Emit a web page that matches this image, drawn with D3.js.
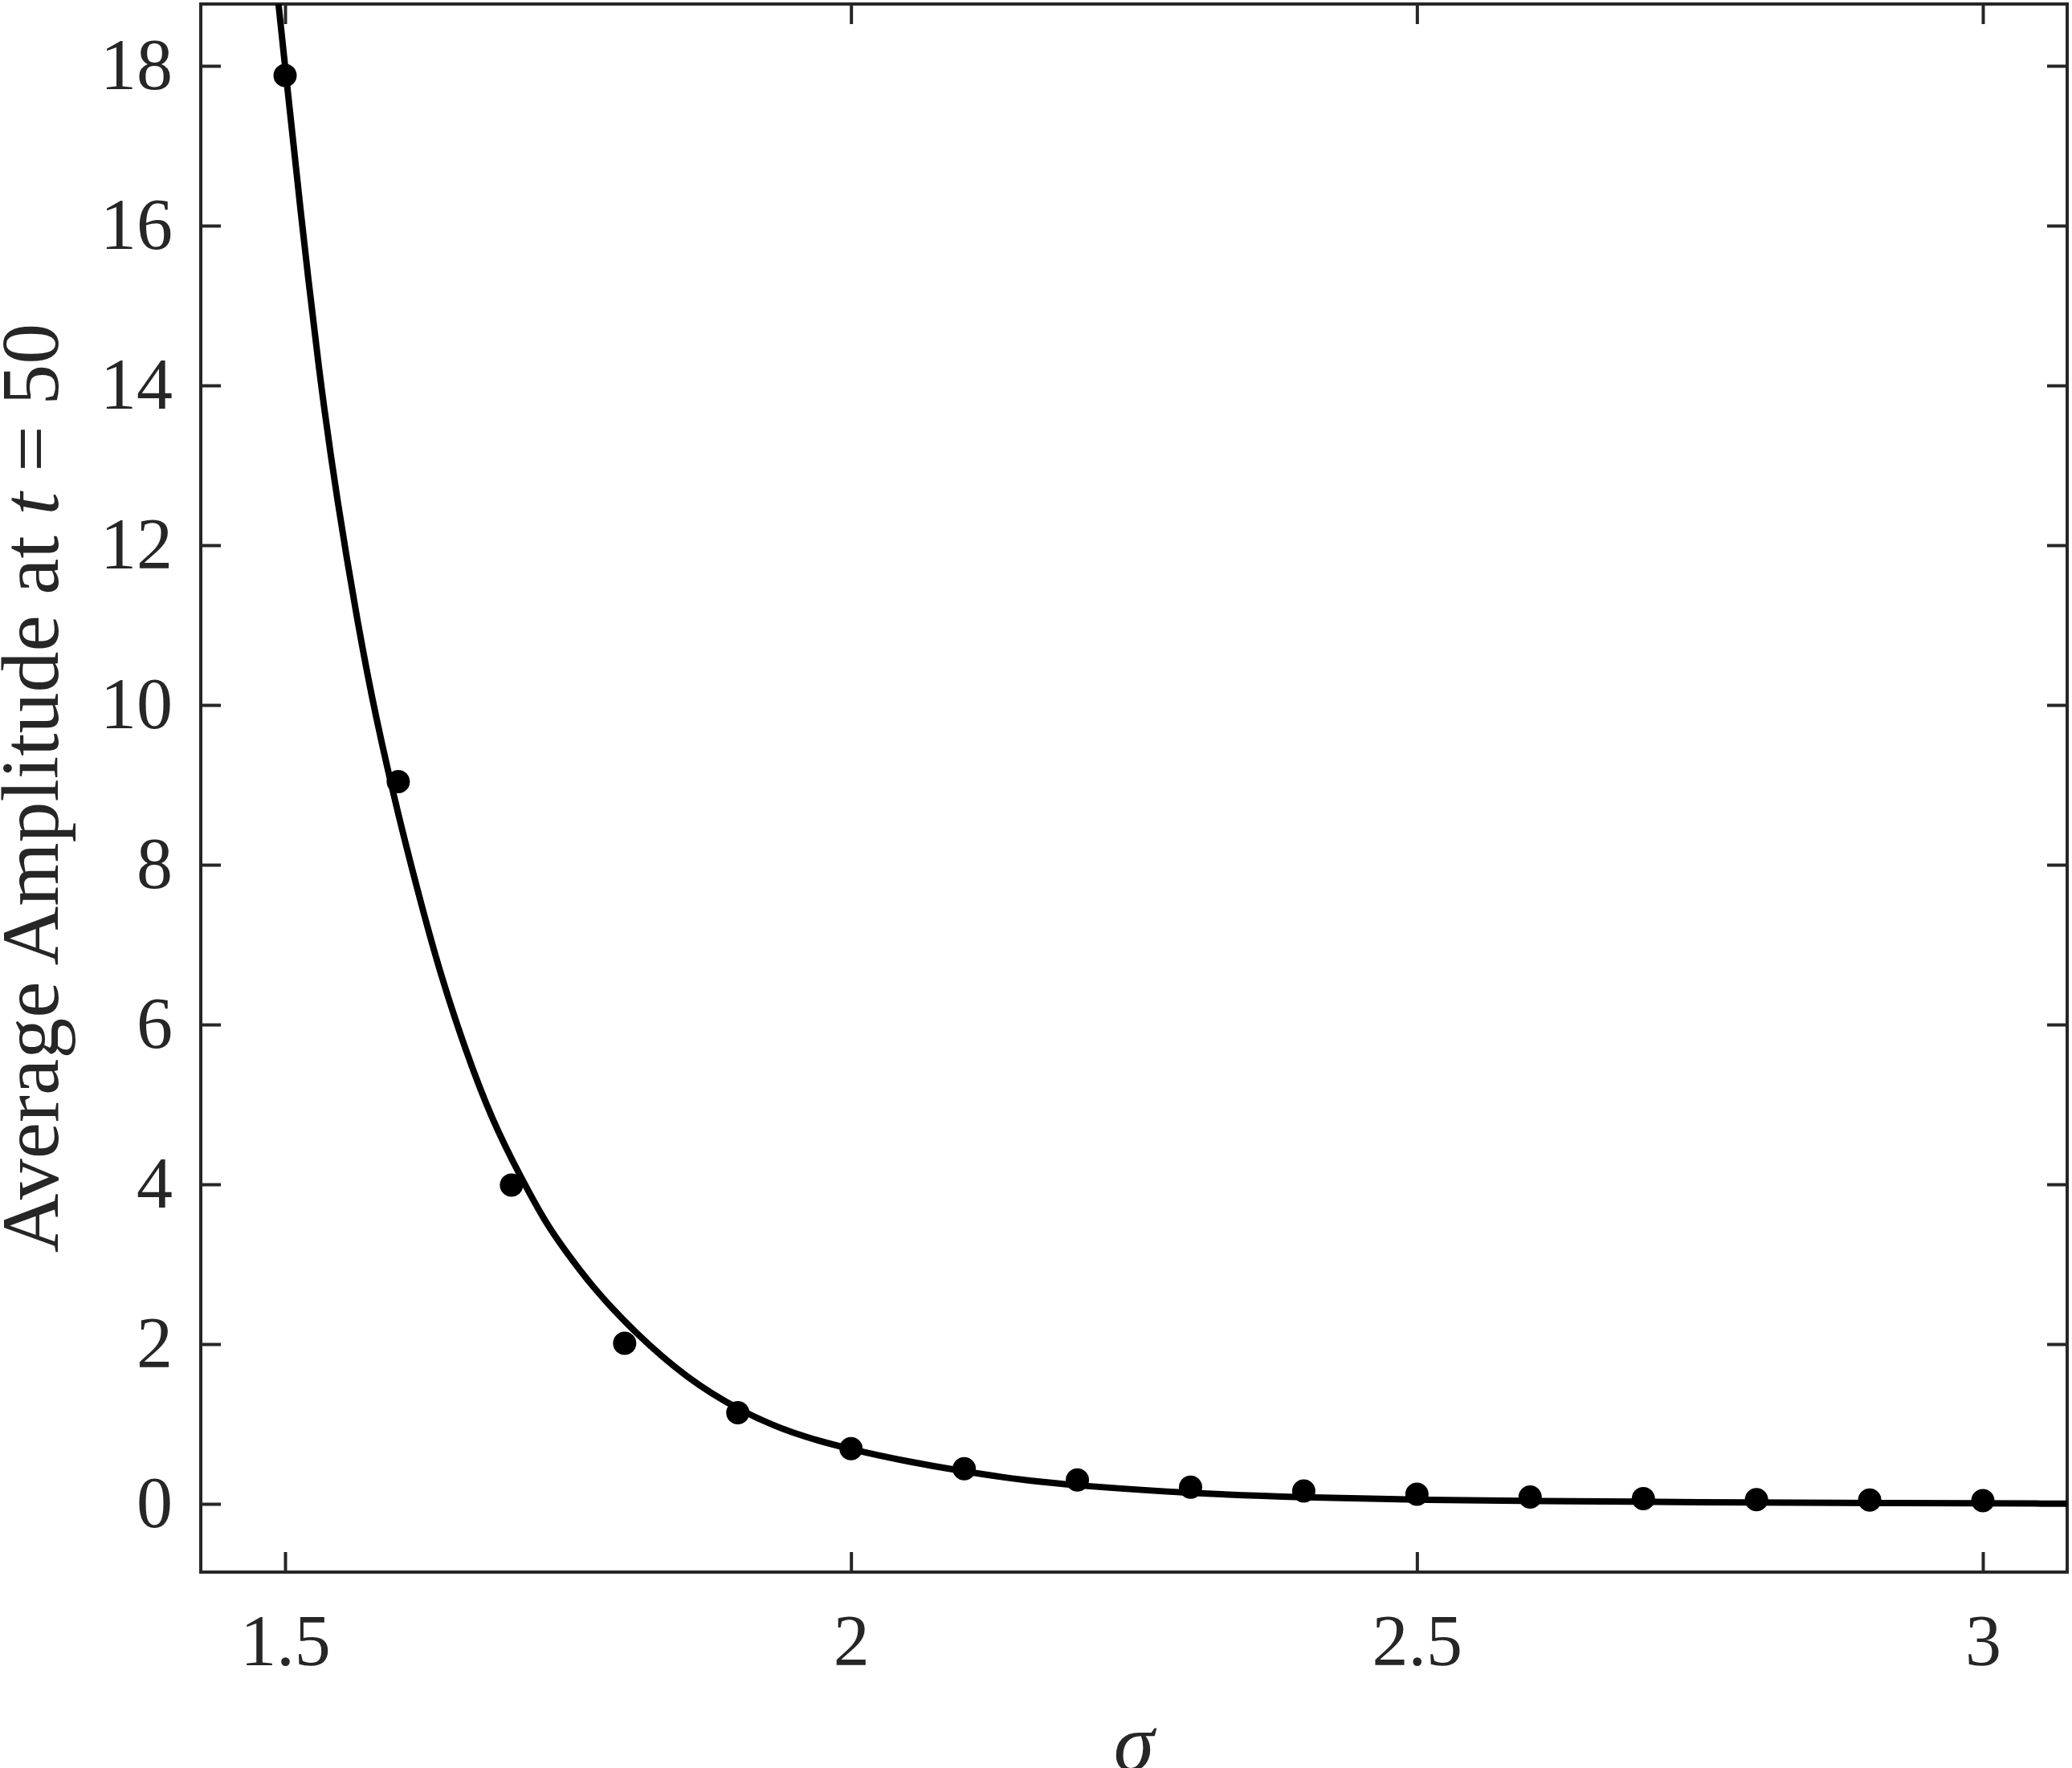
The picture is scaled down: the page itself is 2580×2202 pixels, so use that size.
<!DOCTYPE html>
<html>
<head>
<meta charset="utf-8">
<script src="https://cdn.jsdelivr.net/npm/d3@7"></script>
<style>
  body { margin: 0; background: #fff; }
  text { font-family: "Liberation Serif", "Times New Roman", serif; fill: #262626; }
</style>
</head>
<body>
<div id="chart"></div>
<script>
// measured points
var sigma = [1.5, 1.6, 1.7, 1.8, 1.9, 2.0, 2.1, 2.2, 2.3, 2.4, 2.5, 2.6, 2.7, 2.8, 2.9, 3.0];
var amplitude = [17.88, 9.04, 3.99, 2.01, 1.14, 0.69, 0.44, 0.30, 0.21, 0.16, 0.12, 0.085, 0.065, 0.053, 0.047, 0.04];

// fitted curve
var fitSigma = [1.488, 1.5, 1.513, 1.53, 1.546, 1.565, 1.58, 1.6, 1.617, 1.636, 1.66, 1.683, 1.707, 1.731, 1.745, 1.771,
                1.809, 1.855, 1.901, 1.949, 2.003, 2.05, 2.098, 2.135, 2.171, 2.2, 2.3, 2.4, 2.5, 2.6, 2.75, 2.9, 3.075];
var fitAmplitude = [19.6, 17.99, 16.26, 14.15, 12.55, 10.95, 9.85, 8.62, 7.68, 6.68, 5.65, 4.8, 4.12, 3.5, 3.22, 2.72,
                    2.14, 1.57, 1.17, 0.87, 0.67, 0.53, 0.41, 0.33, 0.27, 0.23, 0.13, 0.08, 0.05, 0.035, 0.02, 0.01, 0.003];

var xTicks = [1.5, 2, 2.5, 3];
var yTicks = [0, 2, 4, 6, 8, 10, 12, 14, 16, 18];

var width = 2580, height = 2202;
var plotLeft = 250, plotRight = 2574, plotTop = 5, plotBottom = 1958;

var svg = d3.select("#chart").append("svg")
    .attr("width", width)
    .attr("height", height);

svg.append("rect").attr("width", width).attr("height", height).attr("fill", "#fff");

var x = d3.scaleLinear().domain([1.4255, 3.0745]).range([plotLeft, plotRight]);
var y = d3.scaleLinear().domain([-0.854, 18.774]).range([plotBottom, plotTop]);

// axes, ticks pointing inward
var axisStyle = function(g) {
    g.select(".domain").remove();
    g.selectAll(".tick line").attr("stroke", "#262626").attr("stroke-width", 4);
    g.selectAll(".tick text").attr("font-size", "90px").attr("fill", "#262626")
        .style("font-family", "'Liberation Serif', 'Times New Roman', serif");
};

svg.append("g")
    .attr("transform", "translate(0," + plotBottom + ")")
    .call(d3.axisBottom(x).tickValues(xTicks).tickSize(-25).tickPadding(52).tickFormat(d3.format("")))
    .call(axisStyle);

svg.append("g")
    .attr("transform", "translate(0," + plotTop + ")")
    .call(d3.axisTop(x).tickValues(xTicks).tickSize(-25).tickFormat(""))
    .call(axisStyle);

svg.append("g")
    .attr("transform", "translate(" + plotLeft + ",0)")
    .call(d3.axisLeft(y).tickValues(yTicks).tickSize(-25).tickPadding(35).tickFormat(d3.format("")))
    .call(axisStyle);

svg.append("g")
    .attr("transform", "translate(" + plotRight + ",0)")
    .call(d3.axisRight(y).tickValues(yTicks).tickSize(-25).tickFormat(""))
    .call(axisStyle);

// box
svg.append("rect")
    .attr("x", plotLeft).attr("y", plotTop)
    .attr("width", plotRight - plotLeft).attr("height", plotBottom - plotTop)
    .attr("fill", "none").attr("stroke", "#262626").attr("stroke-width", 4);

svg.append("clipPath").attr("id", "plot-clip")
    .append("rect").attr("x", plotLeft).attr("y", plotTop)
    .attr("width", plotRight - plotLeft).attr("height", plotBottom - plotTop);

var fitData = fitSigma.map(function(s, i) { return [s, fitAmplitude[i]]; });

// basis smooths out the small reading errors in the curve samples
var line = d3.line()
    .x(function(d) { return x(d[0]); })
    .y(function(d) { return y(d[1]); })
    .curve(d3.curveBasis);

svg.append("path")
    .datum(fitData)
    .attr("clip-path", "url(#plot-clip)")
    .attr("d", line)
    .attr("fill", "none")
    .attr("stroke", "#000")
    .attr("stroke-width", 8);

svg.selectAll(".pt")
    .data(sigma)
    .enter().append("circle")
    .attr("class", "pt")
    .attr("cx", function(d) { return x(d); })
    .attr("cy", function(d, i) { return y(amplitude[i]); })
    .attr("r", 14.5)
    .attr("fill", "#000");

// labels
var ylab = svg.append("text")
    .attr("transform", "translate(72," + (plotTop + plotBottom) / 2 + ") rotate(-90)")
    .attr("text-anchor", "middle")
    .attr("font-size", "102px");
ylab.append("tspan").text("Average Amplitude at ");
ylab.append("tspan").attr("font-style", "italic").text("t");
ylab.append("tspan").text(" = 50");

svg.append("text")
    .attr("x", (plotLeft + plotRight) / 2)
    .attr("y", 2205)
    .attr("text-anchor", "middle")
    .attr("font-size", "102px")
    .attr("font-style", "italic")
    .text("σ");
</script>
</body>
</html>
